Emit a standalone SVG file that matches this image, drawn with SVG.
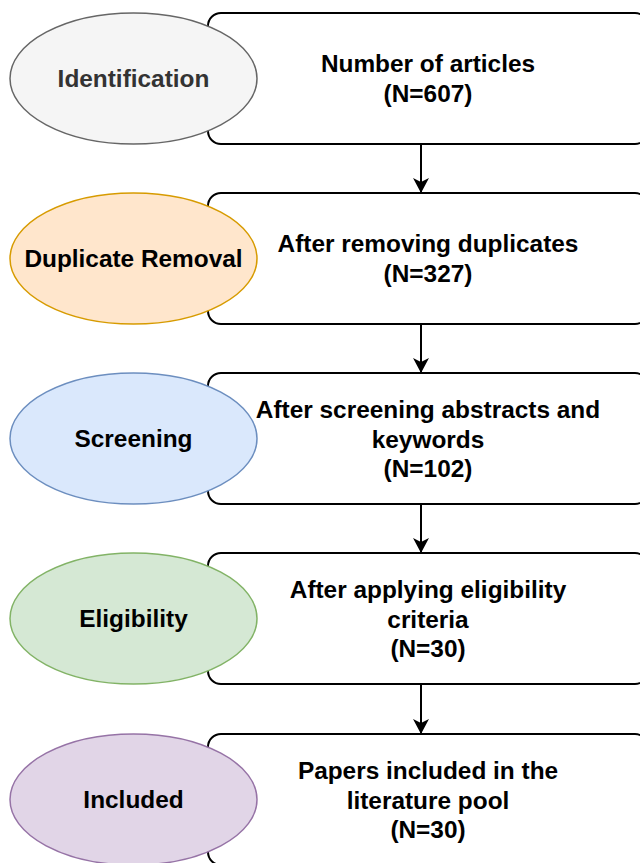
<svg xmlns="http://www.w3.org/2000/svg" width="640" height="863" viewBox="0 0 640 863">
<style>
.box{fill:#ffffff;stroke:#000000;stroke-width:2}
.t{font-family:"Liberation Sans",Arial,sans-serif;font-size:24.4px;font-weight:bold;fill:#000000;text-anchor:middle}
.edge{stroke:#000000;stroke-width:2;fill:none}
</style>
<defs>
<marker id="arr" markerWidth="16" markerHeight="16" refX="14" refY="8" orient="auto" markerUnits="userSpaceOnUse">
<path d="M0,0 L15,8 L0,16 L4,8 Z" fill="#000000"/>
</marker>
</defs>
<rect width="640" height="863" fill="#ffffff"/>
<g id="connectors">
<line class="edge" x1="421" y1="144" x2="421" y2="192" marker-end="url(#arr)"/>
<line class="edge" x1="421" y1="324" x2="421" y2="372" marker-end="url(#arr)"/>
<line class="edge" x1="421" y1="504" x2="421" y2="552" marker-end="url(#arr)"/>
<line class="edge" x1="421" y1="684" x2="421" y2="733" marker-end="url(#arr)"/>
</g>
<g id="box1">
<rect class="box" x="208" y="13" width="440" height="131" rx="13"/>
<text class="t" x="428" y="72">Number of articles</text>
<text class="t" x="428" y="102">(N=607)</text>
</g>
<g id="id1">
<ellipse cx="133.5" cy="78.5" rx="123.5" ry="65.5" fill="#f5f5f5" stroke="#666666" stroke-width="1.5"/>
<text class="t" x="133.5" y="87" style="fill:#333333">Identification</text>
</g>
<g id="box2">
<rect class="box" x="208" y="193" width="440" height="131" rx="13"/>
<text class="t" x="428" y="252">After removing duplicates</text>
<text class="t" x="428" y="282">(N=327)</text>
</g>
<g id="id2">
<ellipse cx="133.5" cy="258.5" rx="123.5" ry="65.5" fill="#ffe6cc" stroke="#d79b00" stroke-width="1.5"/>
<text class="t" x="133.5" y="267">Duplicate Removal</text>
</g>
<g id="box3">
<rect class="box" x="208" y="373" width="440" height="131" rx="13"/>
<text class="t" x="428" y="418">After screening abstracts and</text>
<text class="t" x="428" y="448">keywords</text>
<text class="t" x="428" y="477">(N=102)</text>
</g>
<g id="id3">
<ellipse cx="133.5" cy="438.5" rx="123.5" ry="65.5" fill="#dae8fc" stroke="#6c8ebf" stroke-width="1.5"/>
<text class="t" x="133.5" y="447">Screening</text>
</g>
<g id="box4">
<rect class="box" x="208" y="553" width="440" height="131" rx="13"/>
<text class="t" x="428" y="598">After applying eligibility</text>
<text class="t" x="428" y="628">criteria</text>
<text class="t" x="428" y="657">(N=30)</text>
</g>
<g id="id4">
<ellipse cx="133.5" cy="618.5" rx="123.5" ry="65.5" fill="#d5e8d4" stroke="#82b366" stroke-width="1.5"/>
<text class="t" x="133.5" y="627">Eligibility</text>
</g>
<g id="box5">
<rect class="box" x="208" y="734" width="440" height="131" rx="13"/>
<text class="t" x="428" y="779">Papers included in the</text>
<text class="t" x="428" y="809">literature pool</text>
<text class="t" x="428" y="838">(N=30)</text>
</g>
<g id="id5">
<ellipse cx="133.5" cy="799.5" rx="123.5" ry="65.5" fill="#e1d5e7" stroke="#9673a6" stroke-width="1.5"/>
<text class="t" x="133.5" y="808">Included</text>
</g>
</svg>
